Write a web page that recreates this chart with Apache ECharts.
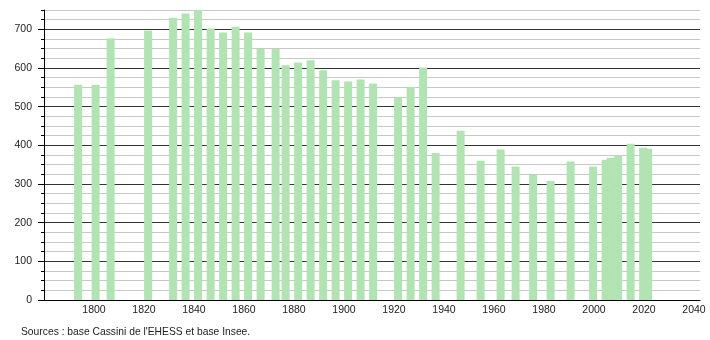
<!DOCTYPE html>
<html>
<head>
<meta charset="utf-8">
<script src="https://cdn.jsdelivr.net/npm/echarts@6/dist/echarts.min.js"></script>
<style>html,body{margin:0;padding:0;background:#fff}#c{width:710px;height:340px}</style>
</head>
<body>
<div id="c"></div>
<script>
const years = [1793,1800,1806,1821,1831,1836,1841,1846,1851,1856,1861,1866,1872,1876,1881,1886,1891,1896,1901,1906,1911,1921,1926,1931,1936,1946,1954,1962,1968,1975,1982,1990,1999,2004,2006,2009,2014,2019,2021];
const population = [557,557,676,697,730,741,750,702,692,707,692,649,649,607,614,620,594,568,565,570,560,523,551,601,380,438,360,389,345,323,308,358,345,363,368,374,404,394,391];
const yTickLabels = [0,100,200,300,400,500,600,700];
const xTickLabels = [1800,1820,1840,1860,1880,1900,1920,1940,1960,1980,2000,2020,2040];
const sourceText = "Sources : base Cassini de l'EHESS et base Insee.";

const chart = echarts.init(document.getElementById('c'), null, {renderer: 'canvas'});
const font = 'Arial, "Liberation Sans", sans-serif';
chart.setOption({
  animation: false,
  backgroundColor: '#fff',
  title: {
    text: sourceText, left: 16, top: 322,
    textStyle: {fontSize: 10.3, fontWeight: 'normal', color: '#222', fontFamily: font}
  },
  grid: {left: 44, right: 10, top: 10, bottom: 40},
  xAxis: [{
    type: 'value', min: 1780, max: 2042.4, interval: 20,
    axisLine: {show: true, lineStyle: {color: '#000', width: 1}},
    axisTick: {show: false},
    splitLine: {show: false},
    axisLabel: {
      margin: 5, fontSize: 10.5, color: '#222', fontFamily: font,
      formatter: v => xTickLabels.indexOf(v) >= 0 ? String(v) : ''
    }
  }, {
    type: 'value', min: 1779.35, max: 2041.75, position: 'bottom',
    show: false
  }],
  yAxis: [{
    type: 'value', min: 0, max: 750, interval: 25,
    axisLine: {show: true, lineStyle: {color: '#000', width: 1}},
    axisTick: {show: true, length: 3, lineStyle: {color: '#000'}},
    splitLine: {show: true, lineStyle: {color: ['#333', '#c8c8c8', '#c8c8c8', '#c8c8c8'], width: 1}},
    axisLabel: {
      margin: 12, fontSize: 10.5, color: '#222', fontFamily: font,
      formatter: v => yTickLabels.indexOf(v) >= 0 ? String(v) : ''
    }
  }, {
    type: 'value', min: 0, max: 750, interval: 100, position: 'left',
    axisLine: {show: false},
    axisTick: {show: true, length: 6, lineStyle: {color: '#000'}, customValues: yTickLabels},
    splitLine: {show: false},
    axisLabel: {show: false}
  }],
  series: [{
    type: 'bar',
    xAxisIndex: 1,
    yAxisIndex: 0,
    barWidth: 8,
    itemStyle: {color: '#b2e3b2'},
    data: years.map((y, i) => [y, population[i]])
  }]
});
</script>
</body>
</html>
